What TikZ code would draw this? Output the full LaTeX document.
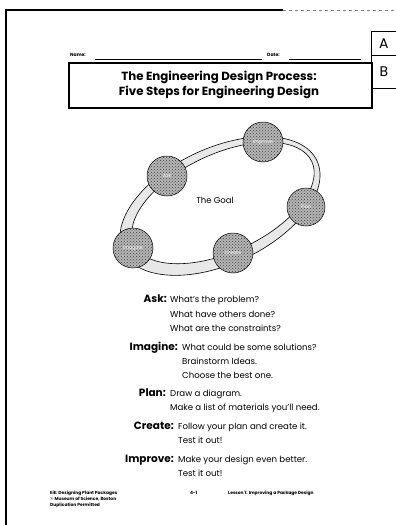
\documentclass[tikz,border=0pt]{standalone}
\usepackage{fontspec}
\setmainfont{Poppins}
\usetikzlibrary{patterns}
\begin{document}
\begin{tikzpicture}[x=1pt,y=-1pt,
  stepcirc/.style={circle, draw=black, line width=0.5pt, preaction={fill=gray!58}, pattern=crosshatch dots, pattern color=black!75, minimum size=40pt, inner sep=0pt, font=\fontsize{4.8}{5}\selectfont, text=white},
  lab/.style={anchor=base east, inner sep=0pt, font=\fontsize{10.5}{11}\selectfont\bfseries},
  desc/.style={anchor=base west, inner sep=0pt, font=\fontsize{8.6}{9}\selectfont},
  foot/.style={anchor=base west, inner sep=0pt, font=\fontsize{4.4}{5}\selectfont\bfseries},
  small/.style={anchor=base west, inner sep=0pt, font=\fontsize{4.6}{5}\selectfont\bfseries},
  titletext/.style={inner sep=0pt, anchor=base, font=\fontsize{11.8}{12}\selectfont\bfseries},
  letterbox/.style={draw, line width=0.6pt, minimum width=25pt, anchor=north west, inner sep=0pt, font=\fontsize{14}{14}\selectfont}
]
\useasboundingbox (0,0) rectangle (396,525);
\fill[white] (0,0) rectangle (396,525);
% page border
\coordinate (tl) at (6,10);
\coordinate (tm) at (283,10);
\coordinate (tr) at (396,10);
\coordinate (bl) at (6,525);
\draw[line width=1.2pt] (tm) -- (tl) -- (bl);
\draw[line width=0.7pt, gray, dashed] (tm) -- (tr);
% letter boxes
\node[letterbox, minimum height=24pt] (A) at (371,31) {A};
\node[letterbox, minimum height=33pt] (B) at (371,55) {B};
% name / date
\node[small] (name) at (70,56) {Name:};
\coordinate (n1) at (95,59);
\coordinate (n2) at (262,59);
\draw[line width=0.5pt] (n1) -- (n2);
\node[small] (date) at (267,56) {Date:};
\coordinate (d1) at (289,59);
\coordinate (d2) at (361,59);
\draw[line width=0.5pt] (d1) -- (d2);
% title box
\node[draw, line width=1.8pt, minimum width=303pt, minimum height=45pt, anchor=north west, inner sep=0pt] (tbox) at (68,62) {};
\node[titletext] (t1) at (219,80) {The Engineering Design Process:};
\node[titletext] (t2) at (219,95) {Five Steps for Engineering Design};
% ring (band thicker at lower left, thinner at upper right)
\coordinate (rco) at (220,206);
\coordinate (rci) at (223,203);
\draw[line width=0.6pt, fill=gray!18, rotate around={25:(rco)}] (rco) ellipse [x radius=107pt, y radius=58pt];
\draw[line width=0.6pt, fill=white, rotate around={25:(rci)}] (rci) ellipse [x radius=98pt, y radius=49pt];
\node[inner sep=0pt, font=\fontsize{8.5}{9}\selectfont] (goal) at (215,200) {The Goal};
% step circles
\node[stepcirc] (cimp) at (263,142) {Improve};
\node[stepcirc] (cask) at (167,176) {Ask};
\node[stepcirc, minimum size=38pt] (cplan) at (306,207) {Plan};
\node[stepcirc] (ccre) at (233,253) {Create};
\node[stepcirc] (cima) at (133,248) {Imagine};
% steps text
\node[lab] (lask) at (167,302) {Ask:};
\node[desc] (ask1) at (170,302) {What's the problem?};
\node[desc] (ask2) at (170,317) {What have others done?};
\node[desc] (ask3) at (170,331) {What are the constraints?};
\node[lab] (lima) at (178,350) {Imagine:};
\node[desc] (ima1) at (182,350) {What could be some solutions?};
\node[desc] (ima2) at (182,364) {Brainstorm Ideas.};
\node[desc] (ima3) at (182,378) {Choose the best one.};
\node[lab] (lplan) at (166,396) {Plan:};
\node[desc] (plan1) at (170,396) {Draw a diagram.};
\node[desc] (plan2) at (170,410) {Make a list of materials you'll need.};
\node[lab] (lcre) at (174,429) {Create:};
\node[desc] (cre1) at (178,429) {Follow your plan and create it.};
\node[desc] (cre2) at (178,443) {Test it out!};
\node[lab] (limp) at (174,462) {Improve:};
\node[desc] (imp1) at (178,462) {Make your design even better.};
\node[desc] (imp2) at (178,476) {Test it out!};
% footer
\node[foot] (f1) at (50,494) {EiE: Designing Plant Packages};
\node[foot] (f2) at (50,500) {© Museum of Science, Boston};
\node[foot] (f3) at (50,506) {Duplication Permitted};
\node[foot] (f4) at (190,494) {4-1};
\node[foot] (f5) at (228,494) {Lesson 1: Improving a Package Design};
\end{tikzpicture}
\end{document}
